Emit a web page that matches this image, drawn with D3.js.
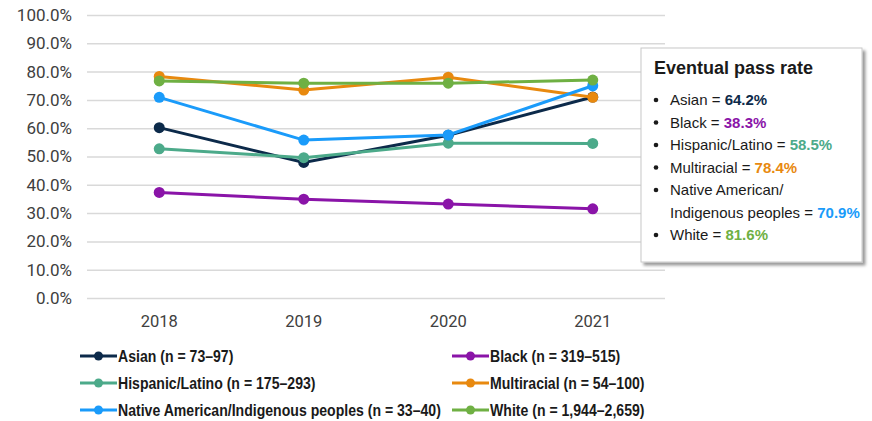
<!DOCTYPE html>
<html>
<head>
<meta charset="utf-8">
<script src="https://cdn.jsdelivr.net/npm/d3@7"></script>
<style>
  body { margin: 0; background: #fff; }
  .tick text { font-family: Roboto, "Liberation Sans", sans-serif; fill: #404040; }
  .legend text { font-family: "Liberation Sans", Arial, sans-serif; font-weight: bold; font-size: 16px; fill: #1a1a1a; }
  .box text { font-family: "Liberation Sans", Arial, sans-serif; fill: #1a1a1a; }
</style>
</head>
<body>
<svg class="chart" width="872" height="421"></svg>
<script>
const years = ['2018', '2019', '2020', '2021']
const yTicks = [0, 10, 20, 30, 40, 50, 60, 70, 80, 90, 100]

const asian = [60.2, 47.9, 57.5, 71.0]
const black = [37.3, 34.9, 33.2, 31.5]
const hispanic = [52.7, 49.6, 54.7, 54.6]
const multiracial = [78.3, 73.5, 78.0, 70.9]
const nativeAm = [70.9, 55.8, 57.6, 75.0]
const white = [76.7, 75.9, 75.9, 77.0]

const groups = ['Asian', 'Black', 'Hispanic/Latino', 'Multiracial', 'Native American/Indigenous peoples', 'White']
const sampleSizes = ['73–97', '319–515', '175–293', '54–100', '33–40', '1,944–2,659']
const passRates = ['64.2%', '38.3%', '58.5%', '78.4%', '70.9%', '81.6%']
const colors = ['#0c2a4a', '#8a14a8', '#4caa8a', '#e8890f', '#1a9bfa', '#6fb043']

const series = [asian, black, hispanic, multiracial, nativeAm, white].map((values, i) => ({
  name: groups[i],
  color: colors[i],
  values: values
}))

const svg = d3.select('.chart')

const x = d3.scaleBand().domain(years).range([87, 665])
const y = d3.scaleLinear().domain([0, 100]).range([298, 15])

// gridlines + y labels
const yAxis = svg.append('g')
  .attr('transform', 'translate(87,0)')
  .call(d3.axisLeft(y).tickValues(yTicks).tickSize(-578).tickPadding(15)
    .tickFormat(d => d.toFixed(1) + '%'))
yAxis.select('.domain').remove()
yAxis.selectAll('.tick line').attr('stroke', '#d9d9d9').attr('stroke-width', 1.5)
yAxis.selectAll('.tick text').attr('font-size', '17px')

const xAxis = svg.append('g')
  .attr('transform', 'translate(0,298)')
  .call(d3.axisBottom(x).tickSize(0).tickPadding(17))
xAxis.select('.domain').remove()
xAxis.selectAll('.tick text').attr('font-size', '16.5px')

const line = d3.line()
  .x((d, i) => x(years[i]) + x.bandwidth() / 2)
  .y(d => y(d))

const lines = svg.append('g').selectAll('g')
  .data(series)
  .enter()
  .append('g')

lines.append('path')
  .attr('d', d => line(d.values))
  .attr('fill', 'none')
  .attr('stroke', d => d.color)
  .attr('stroke-width', 3)

lines.selectAll('circle')
  .data(d => d.values.map(v => ({ v: v, color: d.color })))
  .enter()
  .append('circle')
  .attr('cx', (d, i) => x(years[i]) + x.bandwidth() / 2)
  .attr('cy', d => y(d.v))
  .attr('r', 5.5)
  .attr('fill', d => d.color)

// legend at the bottom, two columns
const legend = svg.append('g').attr('class', 'legend')
const legendItems = legend.selectAll('g')
  .data(series)
  .enter()
  .append('g')
  .attr('transform', (d, i) => `translate(${i % 2 === 0 ? 80 : 452},${356 + Math.floor(i / 2) * 27})`)

legendItems.append('line')
  .attr('x1', 0).attr('x2', 37)
  .attr('stroke', d => d.color)
  .attr('stroke-width', 3)
legendItems.append('circle')
  .attr('cx', 18.5).attr('r', 4.5)
  .attr('fill', d => d.color)
// narrow bold look: squeeze the text horizontally
legendItems.append('text')
  .attr('transform', 'translate(38,0) scale(0.88,1)')
  .attr('dy', '0.36em')
  .text((d, i) => `${d.name} (n = ${sampleSizes[i]})`)

// pass-rate box
const defs = svg.append('defs')
const shadow = defs.append('filter').attr('id', 'shadow')
  .attr('x', '-10%').attr('y', '-10%').attr('width', '130%').attr('height', '130%')
shadow.append('feDropShadow')
  .attr('dx', 3).attr('dy', 3).attr('stdDeviation', 1.5)
  .attr('flood-color', '#000').attr('flood-opacity', 0.4)

const box = svg.append('g').attr('class', 'box').attr('transform', 'translate(641,48)')
box.append('rect')
  .attr('width', 221).attr('height', 214)
  .attr('fill', '#fff')
  .attr('stroke', '#c8c8c8')
  .attr('filter', 'url(#shadow)')
box.append('text')
  .attr('x', 13).attr('y', 26)
  .attr('font-size', '18px')
  .attr('font-weight', 'bold')
  .text('Eventual pass rate')

const boxLines = []
series.forEach((s, i) => {
  if (s.name.startsWith('Native')) {
    boxLines.push({ bullet: true, label: 'Native American/', value: null, color: s.color })
    boxLines.push({ bullet: false, label: 'Indigenous peoples = ', value: passRates[i], color: s.color })
  } else {
    boxLines.push({ bullet: true, label: s.name + ' = ', value: passRates[i], color: s.color })
  }
})

const rows = box.selectAll('g.row')
  .data(boxLines)
  .enter()
  .append('g')
  .attr('class', 'row')
  .attr('transform', (d, i) => `translate(0,${57 + i * 22.5})`)

rows.filter(d => d.bullet).append('circle')
  .attr('cx', 15).attr('cy', -5).attr('r', 2.3)
  .attr('fill', '#1a1a1a')

const rowText = rows.append('text')
  .attr('x', 29)
  .attr('font-size', '15px')
rowText.append('tspan').text(d => d.label)
rowText.filter(d => d.value).append('tspan')
  .attr('font-weight', 'bold')
  .attr('fill', d => d.color)
  .text(d => d.value)
</script>
</body>
</html>
